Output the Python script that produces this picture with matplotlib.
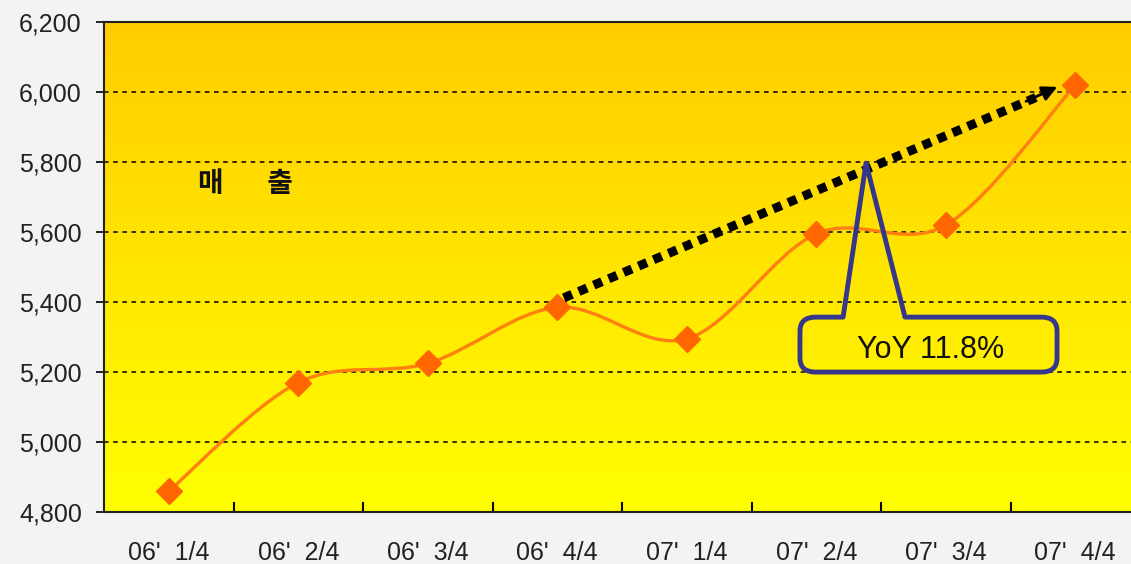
import numpy as np
import matplotlib
matplotlib.use("Agg")
from matplotlib import pyplot as plt
from matplotlib.path import Path
from matplotlib.patches import PathPatch

quarters = ["06'  1/4", "06'  2/4", "06'  3/4", "06'  4/4",
            "07'  1/4", "07'  2/4", "07'  3/4", "07'  4/4"]
sales = [4860, 5170, 5225, 5385, 5295, 5595, 5620, 6020]
y_ticks = [4800, 5000, 5200, 5400, 5600, 5800, 6000, 6200]
y_labels = ["4,800", "5,000", "5,200", "5,400", "5,600", "5,800", "6,000", "6,200"]
yoy_text = "YoY 11.8%"
title_text = "매       출"

plt.rcParams['font.family'] = ['Liberation Sans', 'Noto Sans CJK KR', 'DejaVu Sans']


def smooth_path(xs, ys):
    # bezier curve through the points, like a spreadsheet "smoothed line"
    xs = np.asarray(xs, float)
    ys = np.asarray(ys, float)
    verts = [(xs[0], ys[0])]
    codes = [Path.MOVETO]
    n = len(xs)
    for i in range(n - 1):
        i0 = max(i - 1, 0)
        i3 = min(i + 2, n - 1)
        c1 = (xs[i] + (xs[i + 1] - xs[i0]) / 6, ys[i] + (ys[i + 1] - ys[i0]) / 6)
        c2 = (xs[i + 1] - (xs[i3] - xs[i]) / 6, ys[i + 1] - (ys[i3] - ys[i]) / 6)
        verts += [c1, c2, (xs[i + 1], ys[i + 1])]
        codes += [Path.CURVE4] * 3
    return Path(verts, codes)


fig = plt.figure(figsize=(11.31, 5.64), dpi=100)
fig.patch.set_facecolor("#f3f3f3")
ax = fig.add_axes([0.092, 0.092, 0.916, 0.869])

x = np.arange(len(sales))
ax.set_xlim(-0.5, len(sales) - 0.5)
ax.set_ylim(4800, 6200)

# yellow gradient background
grad = np.linspace(0, 1, 256).reshape(-1, 1)
top = np.array([1.0, 0.80, 0.0])
bottom = np.array([1.0, 1.0, 0.0])
img = bottom + (top - bottom) * grad[..., None]
ax.imshow(img, extent=[-0.5, len(sales) - 0.5, 4800, 6200], origin="lower",
          aspect="auto", zorder=0)

for v in y_ticks[1:-1]:
    ax.axhline(v, color="black", lw=1.1, ls=(0, (3, 3)), zorder=1)

ax.add_patch(PathPatch(smooth_path(x, sales), facecolor="none",
                       edgecolor="#ff7f10", lw=2.4, zorder=3))
ax.plot(x, sales, ls="none", marker="D", ms=13, color="#ff6600", zorder=4)

# dotted trend arrow
ax.plot([3.05, 6.7], [5412, 5985], color="black", lw=6.5,
        ls=(0, (1.0, 0.8)), zorder=5, solid_capstyle="butt")
ax.annotate("", xy=(6.88, 6018), xytext=(6.6, 5970),
            arrowprops=dict(arrowstyle="-|>,head_length=0.9,head_width=0.45",
                            color="black", lw=2), zorder=5)

# callout box with pointer
x0, x1, y0, y1 = 4.874, 6.859, 5200, 5357
rx, ry = 0.12, 40
bl, br = 5.207, 5.685
apex = (5.384, 5797)
verts = [(x0 + rx, y1), (bl, y1), apex, (br, y1), (x1 - rx, y1),
         (x1, y1), (x1, y1 - ry), (x1, y0 + ry),
         (x1, y0), (x1 - rx, y0), (x0 + rx, y0),
         (x0, y0), (x0, y0 + ry), (x0, y1 - ry),
         (x0, y1), (x0 + rx, y1), (x0 + rx, y1)]
codes = [Path.MOVETO, Path.LINETO, Path.LINETO, Path.LINETO, Path.LINETO,
         Path.CURVE3, Path.CURVE3, Path.LINETO,
         Path.CURVE3, Path.CURVE3, Path.LINETO,
         Path.CURVE3, Path.CURVE3, Path.LINETO,
         Path.CURVE3, Path.CURVE3, Path.CLOSEPOLY]
ax.add_patch(PathPatch(Path(verts, codes), facecolor="none",
                       edgecolor="#36368a", lw=3.5, zorder=6, joinstyle="round"))
ax.text((x0 + x1) / 2 + 0.02, 5262, yoy_text, ha="center", va="center",
        fontsize=22, color="#111111", zorder=7)

ax.text(0.59, 5737, title_text, ha="center", va="center", fontsize=20,
        fontweight="bold", color="#111111", family=['Noto Sans CJK KR', 'DejaVu Sans'])

# axes styling
for s in ["left", "bottom", "top"]:
    ax.spines[s].set_color("#222222")
    ax.spines[s].set_linewidth(1.5)
ax.spines["right"].set_visible(False)

ax.set_yticks(y_ticks)
ax.set_yticklabels(y_labels, fontsize=18, color="#222222")
ax.tick_params(axis="y", length=6, width=1.2, direction="out", pad=10)

ax.set_xticks(np.arange(0.5, len(sales) - 0.5, 1))
ax.set_xticklabels([])
ax.tick_params(axis="x", which="major", direction="in", length=7, width=1.5)
ax.set_xticks(x, minor=True)
ax.set_xticklabels(quarters, minor=True, fontsize=18, color="#222222")
ax.tick_params(axis="x", which="minor", length=0, pad=21)

fig.savefig("out.png", dpi=100, facecolor=fig.get_facecolor())
